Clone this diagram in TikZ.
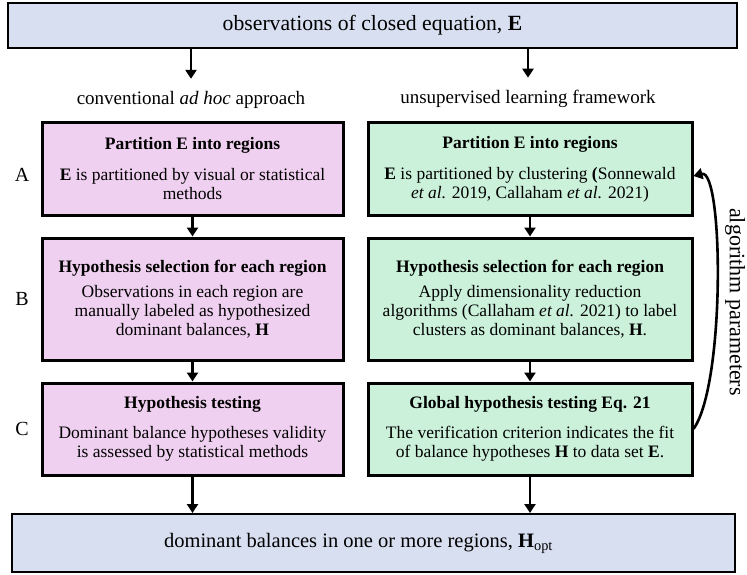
\documentclass[tikz,border=0pt]{standalone}
\usepackage{fontspec}
\setmainfont{Liberation Serif}
\usetikzlibrary{arrows.meta}
\definecolor{adhocpink}{HTML}{F0D0F0}
\definecolor{learngreen}{HTML}{CBF1DA}
\definecolor{endblue}{HTML}{D7DFF0}

\begin{document}
\begin{tikzpicture}[x=1pt,y=-1pt,
    box/.style={draw,line width=3pt,align=center,inner sep=0pt,
      font=\fontsize{17.5}{19}\selectfont},
    lbox/.style={box,fill=adhocpink,minimum width=301pt},
    rbox/.style={box,fill=learngreen,minimum width=324pt},
    wide/.style={draw,line width=2pt,fill=endblue,inner sep=0pt},
    arr/.style={line width=2.6pt,-{Triangle[length=9pt,width=11pt]}}]
  \useasboundingbox (0,0) rectangle (747,575);
  \node[wide,minimum width=729pt,minimum height=45pt,font=\fontsize{21.7}{24}\selectfont]
    (obs) at (372.5,25.5) {observations of closed equation, \textbf{E}};
  \node[font=\fontsize{19}{22}\selectfont] (adhoc) at (191,100) {conventional \textit{ad hoc} approach};
  \node[font=\fontsize{19}{22}\selectfont] (learn) at (528,99) {unsupervised learning framework};
  \draw[arr,shorten >=9pt] (obs.south -| adhoc) -- (adhoc.north);
  \draw[arr,shorten >=9pt] (obs.south -| learn) -- (learn.north);

  \node[lbox,minimum height=92pt] (aL) at (192.5,169)
    {\textbf{Partition E into regions}\\[12pt] \textbf{E} is partitioned by visual or statistical\\ methods};
  \node[lbox,minimum height=122pt] (bL) at (192.5,299)
    {\textbf{Hypothesis selection for each region}\\[6pt] Observations in each region are\\ manually labeled as hypothesized\\ dominant balances, \textbf{H}};
  \node[lbox,minimum height=92pt] (cL) at (192.5,429)
    {\textbf{Hypothesis testing}\\[11pt] Dominant balance hypotheses validity\\ is assessed by statistical methods};

  \node[rbox,minimum height=92pt] (aR) at (530,169)
    {\textbf{Partition E into regions}\\[12pt] \textbf{E} is partitioned by clustering \textbf{(}Sonnewald\\ \textit{et al.} 2019, Callaham \textit{et al.} 2021)};
  \node[rbox,minimum height=122pt] (bR) at (530,299)
    {\textbf{Hypothesis selection for each region}\\[6pt] Apply dimensionality reduction\\ algorithms (Callaham \textit{et al.} 2021) to label\\ clusters as dominant balances, \textbf{H}.};
  \node[rbox,minimum height=92pt] (cR) at (530,429)
    {\textbf{Global hypothesis testing Eq. 21}\\[11pt] The verification criterion indicates the fit\\ of balance hypotheses \textbf{H} to data set \textbf{E}.};

  \node[wide,minimum width=723pt,minimum height=58pt,font=\fontsize{20.5}{24}\selectfont]
    (hopt) at (373.5,543) {dominant balances in one or more regions, \textbf{H}\textsubscript{opt}\hspace*{30pt}};

  \foreach \lab/\row/\dy in {A/aL/6,B/bL/0,C/cL/0}
    \node[font=\fontsize{20}{24}\selectfont] (row\lab) at ([yshift=-\dy pt]22,0 |- \row) {\lab};
  \foreach \u/\v in {aL/bL,bL/cL,aR/bR,bR/cR}
    \draw[arr] (\u) -- (\v);
  \foreach \c in {cL,cR}
    \draw[arr] (\c) -- (\c |- hopt.north);

  \node[rotate=-90,inner sep=0pt,font=\fontsize{22}{24}\selectfont] (param) at (735,302) {algorithm parameters};
  \draw[line width=2.6pt,-{Triangle[length=9pt,width=11pt]}]
    (cR.east) .. controls +(32,-45) and +(30,-8) .. ([yshift=-7pt]aR.east);
\end{tikzpicture}
\end{document}
